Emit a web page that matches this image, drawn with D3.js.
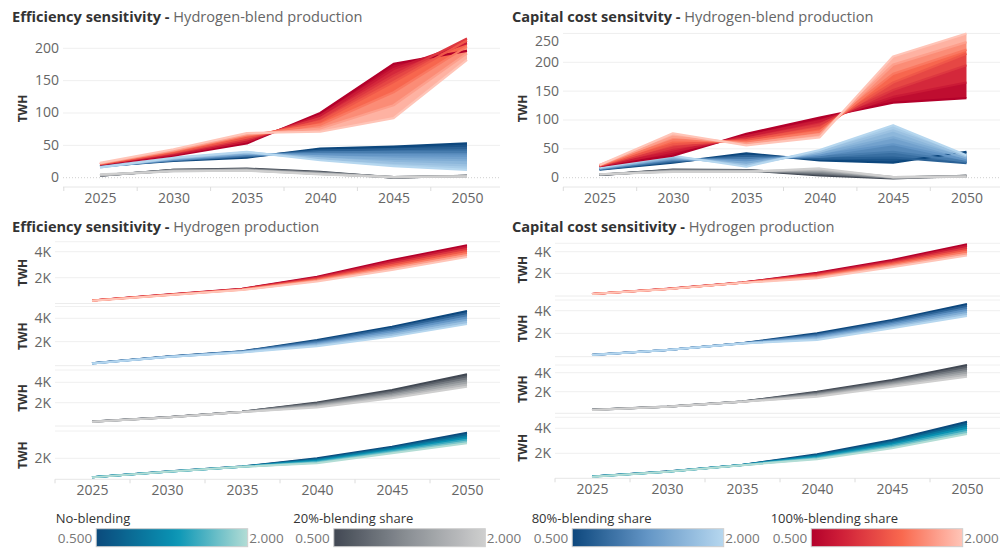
<!DOCTYPE html>
<html><head><meta charset="utf-8">
<script src="https://cdn.jsdelivr.net/npm/d3@7"></script>
<style>
html,body{margin:0;padding:0;background:#fff;}
svg{display:block;font-family:"Open Sans",sans-serif;}
</style></head><body>
<svg id="chart" width="1000" height="549"></svg>
<script>
// ---------------- DATA ----------------
const years = [2025, 2030, 2035, 2040, 2045, 2050];
const sensitivities = [0.5, 0.75, 1.0, 1.25, 1.5, 1.75, 2.0];
const categories = ["No-blending", "20%-blending share", "80%-blending share", "100%-blending share"];
const legendRange = ["0.500", "2.000"];
const blendTicksEff = [0, 50, 100, 150, 200];
const blendTicksCap = [0, 50, 100, 150, 200, 250];
const prodTicks = [2000, 4000];
const prodTicksShort = [2000];
const minorTicks = [2022.5, 2027.5, 2032.5, 2037.5, 2042.5, 2047.5];

// Efficiency sensitivity - Hydrogen-blend production (TWH), rows = sensitivities
const effBlend20 = [
  [3, 12, 14, 9, 0, 3], [3, 12, 13, 8, 0, 3], [4, 11, 13, 8, 1, 3], [4, 11, 12, 7, 1, 3],
  [4, 11, 12, 6, 1, 2], [4, 10, 11, 6, 1, 2], [5, 10, 11, 5, 1, 2]];
const effBlend80 = [
  [18, 26, 31, 45, 48, 53], [18, 27, 33, 42, 44, 46], [17, 27, 34, 39, 40, 40], [17, 28, 36, 36, 35, 34],
  [17, 29, 37, 33, 29, 27], [16, 30, 39, 30, 23, 19], [16, 31, 40, 27, 18, 12]];
const effBlend100 = [
  [20, 34, 53, 100, 176, 196], [21, 36, 56, 96, 168, 208], [21, 38, 59, 92, 158, 215], [21, 39, 62, 87, 148, 212],
  [22, 41, 65, 82, 132, 203], [22, 42, 67, 76, 112, 192], [23, 44, 69, 71, 92, 182]];

// Capital cost sensitivity - Hydrogen-blend production (TWH)
const capBlend20 = [
  [5, 14, 13, 4, -1, 3], [5, 13, 13, 6, 0, 3], [5, 13, 12, 8, 0, 3], [5, 12, 12, 10, 0, 2],
  [6, 11, 11, 12, 1, 2], [6, 11, 11, 14, 1, 2], [6, 10, 10, 16, 1, 2]];
const capBlend80 = [
  [14, 26, 42, 30, 26, 45], [15, 28, 38, 33, 35, 25], [15, 30, 34, 36, 45, 28], [16, 32, 30, 39, 58, 31],
  [16, 34, 26, 42, 70, 34], [17, 36, 22, 45, 82, 37], [18, 38, 19, 48, 91, 39]];
const capBlend100 = [
  [20, 38, 76, 104, 130, 138], [20, 45, 72, 98, 140, 165], [21, 52, 68, 92, 152, 195], [21, 58, 65, 86, 165, 215],
  [21, 65, 62, 80, 180, 222], [22, 71, 59, 75, 196, 235], [22, 77, 56, 70, 210, 250]];

// Efficiency sensitivity - Hydrogen production (TWH)
const effProd100 = [
  [250, 700, 1150, 2080, 3360, 4500], [246, 694, 1135, 2020, 3240, 4360], [243, 686, 1120, 1960, 3110, 4210],
  [240, 676, 1102, 1890, 2980, 4060], [237, 667, 1084, 1830, 2850, 3900], [233, 658, 1066, 1760, 2720, 3750],
  [230, 650, 1050, 1700, 2600, 3600]];
const effProd80 = [
  [150, 720, 1180, 2140, 3280, 4630], [145, 713, 1163, 2050, 3140, 4440], [140, 707, 1147, 1960, 3000, 4260],
  [135, 700, 1130, 1870, 2860, 4070], [130, 693, 1113, 1780, 2710, 3880], [125, 687, 1097, 1690, 2570, 3690],
  [120, 680, 1080, 1600, 2430, 3500]];
const effProd20 = [
  [150, 580, 1120, 2030, 3240, 4780], [147, 573, 1113, 1950, 3100, 4580], [143, 567, 1107, 1870, 2970, 4380],
  [140, 560, 1100, 1790, 2840, 4180], [137, 553, 1093, 1700, 2700, 3970], [133, 547, 1087, 1620, 2570, 3770],
  [130, 540, 1080, 1540, 2430, 3570]];
const effProd0 = [
  [140, 700, 1190, 2000, 3140, 4510], [138, 697, 1185, 1920, 3030, 4340], [137, 693, 1180, 1840, 2930, 4160],
  [135, 690, 1175, 1760, 2820, 3990], [133, 687, 1170, 1670, 2710, 3820], [132, 683, 1165, 1590, 2600, 3640],
  [130, 680, 1160, 1510, 2490, 3470]];

// Capital cost sensitivity - Hydrogen production (TWH)
const capProd100 = [
  [100, 570, 1150, 2065, 3240, 4690], [98, 565, 1145, 1980, 3130, 4520], [97, 560, 1140, 1890, 3010, 4340],
  [95, 555, 1135, 1800, 2900, 4170], [93, 550, 1130, 1720, 2790, 3990], [92, 545, 1125, 1630, 2670, 3820],
  [90, 540, 1120, 1545, 2560, 3640]];
const capProd80 = [
  [100, 540, 1130, 2010, 3190, 4600], [98, 537, 1125, 1910, 3070, 4420], [97, 533, 1120, 1810, 2940, 4250],
  [95, 530, 1115, 1710, 2820, 4070], [93, 527, 1110, 1610, 2700, 3890], [92, 523, 1105, 1510, 2570, 3720],
  [90, 520, 1100, 1415, 2450, 3540]];
const capProd20 = [
  [90, 430, 960, 2000, 3230, 4810], [88, 427, 957, 1910, 3110, 4600], [87, 423, 953, 1820, 3000, 4400],
  [85, 420, 950, 1730, 2880, 4190], [83, 417, 947, 1650, 2760, 3990], [82, 413, 943, 1560, 2650, 3780],
  [80, 410, 940, 1470, 2530, 3580]];
const capProd0 = [
  [140, 540, 1070, 1920, 3060, 4530], [138, 537, 1067, 1850, 2950, 4370], [137, 533, 1063, 1790, 2840, 4200],
  [135, 530, 1060, 1720, 2730, 4040], [133, 527, 1057, 1650, 2620, 3870], [132, 523, 1053, 1590, 2510, 3710],
  [130, 520, 1050, 1520, 2400, 3540]];

// ---------------- STYLE ----------------
const palettes = {
  "No-blending":          { d: [0.5, 1.3, 2.0], r: ["#0b4a7c", "#0a96b6", "#b3ddd5"] },
  "20%-blending share":   { d: [0.5, 1.25, 2.0], r: ["#414853", "#8c9196", "#cfcfcf"] },
  "80%-blending share":   { d: [0.5, 1.25, 2.0], r: ["#0d477d", "#6496c6", "#b6d7ef"] },
  "100%-blending share":  { d: [0.5, 0.8, 1.4, 2.0], r: ["#b3002b", "#cf1f38", "#f9694f", "#ffc5b8"] }
};
const colorOf = {};
categories.forEach(c => {
  colorOf[c] = d3.scaleLinear().domain(palettes[c].d).range(palettes[c].r).interpolate(d3.interpolateRgb).clamp(true);
});

const svg = d3.select("#chart");
const FONT = '"Open Sans", sans-serif';
const GRID = "#efefef";

function title(x, y, bold, rest) {
  const t = svg.append("text").attr("x", x).attr("y", y).attr("font-size", 14.6).attr("font-family", FONT);
  t.append("tspan").attr("font-weight", 700).attr("fill", "#333").text(bold);
  t.append("tspan").attr("fill", "#666").text(rest);
}

function twh(x, yc) {
  svg.append("text").attr("transform", `translate(${x},${yc}) rotate(-90)`)
    .attr("text-anchor", "middle").attr("dy", "0.35em")
    .attr("font-size", 12).attr("font-weight", 700).attr("fill", "#333").attr("font-family", FONT)
    .text("TWH");
}

// dark lines first, lighter sensitivities drawn on top
function drawGroup(g, x, y, data, color, sw) {
  const n = data.length;
  for (let i = 1; i < n; i++) {
    const a = data[i], b = data[i - 1];
    const area = d3.area()
      .x(d => x(d)).y0((d, j) => y(a[j])).y1((d, j) => y(b[j]));
    g.append("path").attr("d", area(years))
      .attr("fill", color((sensitivities[i] + sensitivities[i - 1]) / 2));
  }
  for (let i = 0; i < n; i++) {
    const line = d3.line().x(d => x(d)).y((d, j) => y(data[i][j]));
    g.append("path").attr("d", line(years)).attr("fill", "none")
      .attr("stroke", color(sensitivities[i])).attr("stroke-width", sw)
      .attr("stroke-linejoin", "round");
  }
}

function styleAxisText(sel, size) {
  sel.selectAll("text").attr("font-size", size).attr("fill", "#666").attr("font-family", FONT);
  sel.select(".domain").remove();
}

function xAxis(x, left, right, yb) {
  svg.append("line").attr("x1", left).attr("x2", right).attr("y1", yb).attr("y2", yb)
    .attr("stroke", "#e6e6e6");
  const ax = svg.append("g").attr("transform", `translate(0,${yb})`)
    .call(d3.axisBottom(x).tickValues(years).tickFormat(d3.format("d")).tickSize(0).tickPadding(6));
  styleAxisText(ax, 14);
  const mi = svg.append("g").attr("transform", `translate(0,${yb})`)
    .call(d3.axisBottom(x).tickValues(minorTicks).tickFormat("").tickSize(4));
  mi.select(".domain").remove();
  mi.selectAll("line").attr("stroke", "#dcdcdc");
}

// ---------------- TOP CHARTS ----------------
const blendCharts = [
  { bold: "Efficiency sensitivity -", rest: " Hydrogen-blend production", tx: 12, left: 63, right: 500,
    xr: [100, 467], yr: [177.7, 48.3], ticks: blendTicksEff,
    series: [[categories[1], effBlend20], [categories[2], effBlend80], [categories[3], effBlend100]] },
  { bold: "Capital cost sensitvity -", rest: " Hydrogen-blend production", tx: 512, left: 563, right: 1000,
    xr: [599.5, 966.5], yr: [177.7, 62.3], ticks: blendTicksCap,
    series: [[categories[1], capBlend20], [categories[2], capBlend80], [categories[3], capBlend100]] }
];
const TOP = 30, BOT = 187;
blendCharts.forEach(c => {
  title(c.tx, 21.5, c.bold, c.rest);
  const x = d3.scaleLinear().domain([2025, 2050]).range(c.xr);
  const y = d3.scaleLinear().domain([0, 200]).range(c.yr);
  c.ticks.forEach(t => {
    svg.append("line").attr("x1", c.left).attr("x2", c.right).attr("y1", y(t)).attr("y2", y(t))
      .attr("stroke", t === 0 ? "#cfcfcf" : GRID)
      .attr("stroke-dasharray", t === 0 ? "1,2" : null);
  });
  const ay = svg.append("g").attr("transform", `translate(${c.left},0)`)
    .call(d3.axisLeft(y).tickValues(c.ticks).tickSize(0).tickPadding(4));
  styleAxisText(ay, 14);
  ay.selectAll(".tick").attr("transform", d => `translate(0,${Math.max(y(d), TOP + 11.5)})`);
  twh(c.left - 40, (TOP + BOT) / 2);
  xAxis(x, c.left, c.right, BOT);
  const g = svg.append("g");
  c.series.forEach(([cat, data]) => drawGroup(g, x, y, data, colorOf[cat], 2.2));
});

// ---------------- BOTTOM CHARTS ----------------
const prodCharts = [
  { bold: "Efficiency sensitivity -", rest: " Hydrogen production", tx: 12, left: 55, right: 500, xr: [92, 467],
    panes: [
      { cat: categories[3], data: effProd100, top: 241.7, bot: 303.5, y0: 303.7, y4: 251.7, ticks: prodTicks },
      { cat: categories[2], data: effProd80,  top: 306.5, bot: 365.7, y0: 365.0, y4: 318.3, ticks: prodTicks },
      { cat: categories[1], data: effProd20,  top: 370.0, bot: 426.0, y0: 423.1, y4: 382.3, ticks: prodTicks },
      { cat: categories[0], data: effProd0,   top: 431.0, bot: 479.3, y0: 478.7, y4: 437.9, ticks: prodTicksShort }
    ] },
  { bold: "Capital cost sensitivity -", rest: " Hydrogen production", tx: 512, left: 555, right: 1000, xr: [592, 967],
    panes: [
      { cat: categories[3], data: capProd100, top: 243.3, bot: 296.0, y0: 295.0, y4: 251.7, ticks: prodTicks },
      { cat: categories[2], data: capProd80,  top: 300.0, bot: 356.7, y0: 356.0, y4: 310.7, ticks: prodTicks },
      { cat: categories[1], data: capProd20,  top: 365.0, bot: 413.3, y0: 410.7, y4: 372.7, ticks: prodTicks },
      { cat: categories[0], data: capProd0,   top: 417.3, bot: 478.3, y0: 478.3, y4: 428.3, ticks: prodTicks }
    ] }
];
prodCharts.forEach(c => {
  title(c.tx, 231.5, c.bold, c.rest);
  const x = d3.scaleLinear().domain([2025, 2050]).range(c.xr);
  c.panes.forEach((p, i) => {
    const y = d3.scaleLinear().domain([0, 4000]).range([p.y0, p.y4]);
    svg.append("line").attr("x1", c.left).attr("x2", c.right).attr("y1", p.top).attr("y2", p.top).attr("stroke", "#f0f0f0");
    if (i < c.panes.length - 1)
      svg.append("line").attr("x1", c.left).attr("x2", c.right).attr("y1", p.bot).attr("y2", p.bot).attr("stroke", "#ececec");
    p.ticks.forEach(t => {
      svg.append("line").attr("x1", c.left).attr("x2", c.right).attr("y1", y(t)).attr("y2", y(t)).attr("stroke", GRID);
    });
    const ay = svg.append("g").attr("transform", `translate(${c.left},0)`)
      .call(d3.axisLeft(y).tickValues(p.ticks).tickSize(0).tickPadding(4).tickFormat(d => (d / 1000) + "K"));
    styleAxisText(ay, 14);
    twh(c.left - 32, (p.top + p.bot) / 2);
    const g = svg.append("g");
    drawGroup(g, x, y, p.data, colorOf[p.cat], 2);
  });
  xAxis(x, c.left, c.right, c.panes[3].bot);
});

// ---------------- LEGENDS ----------------
const legendX = [55.7, 293.3, 531.7, 770.7];
const defs = svg.append("defs");
categories.forEach((cat, k) => {
  const x0 = legendX[k];
  const gid = "lg" + k;
  const grad = defs.append("linearGradient").attr("id", gid).attr("x1", "0%").attr("x2", "100%");
  d3.range(0, 1.0001, 0.05).forEach(f => {
    grad.append("stop").attr("offset", (f * 100) + "%").attr("stop-color", colorOf[cat](0.5 + 1.5 * f));
  });
  svg.append("text").attr("x", x0).attr("y", 523).attr("font-size", 13).attr("fill", "#333")
    .attr("font-family", FONT).text(cat);
  svg.append("text").attr("x", x0 + 2).attr("y", 543).attr("font-size", 13.5).attr("fill", "#777")
    .attr("font-family", FONT).text(legendRange[0]);
  svg.append("rect").attr("x", x0 + 40.5).attr("y", 528.7).attr("width", 151.5).attr("height", 18)
    .attr("fill", `url(#${gid})`).attr("stroke", "#cfcfcf").attr("stroke-width", 1);
  svg.append("text").attr("x", x0 + 193.5).attr("y", 543).attr("font-size", 13.5).attr("fill", "#777")
    .attr("font-family", FONT).text(legendRange[1]);
});
</script>
</body></html>
